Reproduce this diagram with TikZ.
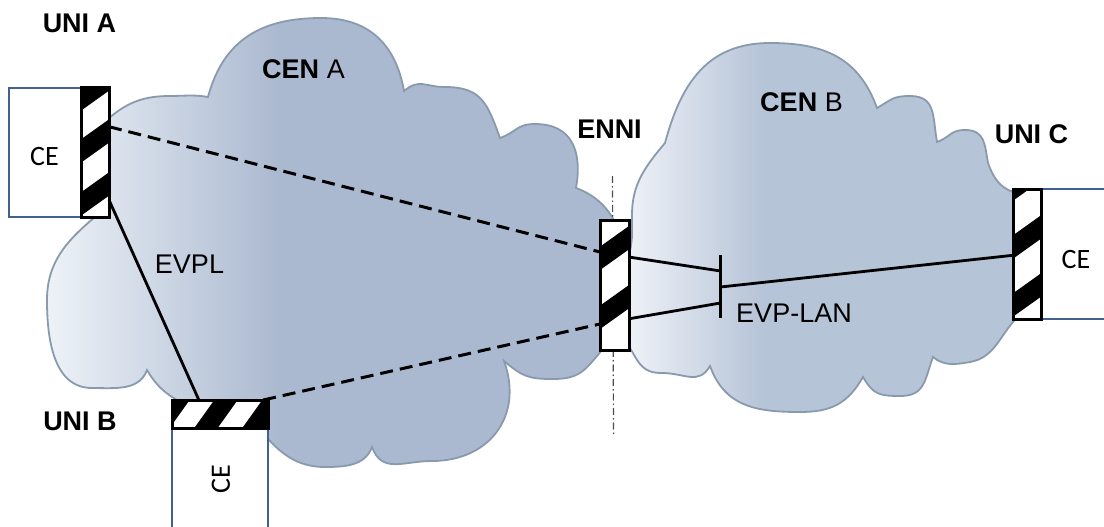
\documentclass[tikz,border=0pt]{standalone}
\usepackage{fontspec}
\setmainfont{Liberation Sans}
\newfontfamily\cefont{Carlito}
\usetikzlibrary{calc}
\definecolor{ceblue}{HTML}{41618F}
\definecolor{cloudline}{HTML}{8A9AAE}
\pgfdeclarehorizontalshading{cloudAshade}{100bp}{rgb(0bp)=(0.93,0.95,0.97); rgb(25bp)=(0.93,0.95,0.97); rgb(45bp)=(0.67,0.725,0.815); rgb(100bp)=(0.67,0.725,0.815)}
\pgfdeclarehorizontalshading{cloudBshade}{100bp}{rgb(0bp)=(0.95,0.96,0.98); rgb(25bp)=(0.95,0.96,0.98); rgb(42bp)=(0.715,0.77,0.845); rgb(100bp)=(0.715,0.77,0.845)}
\newcommand\vstripes[2]{%
  \begin{scope}
    \clip (#1.south west) rectangle (#1.north east);
    \foreach \d in {#2} \draw[stripe] ($(#1.center)+(0,\d)$) ++(-35,-25) -- ++(70,50);
  \end{scope}}
\newcommand\hstripes[2]{%
  \begin{scope}
    \clip (#1.south west) rectangle (#1.north east);
    \foreach \d in {#2} \draw[stripe] ($(#1.center)+(\d,0)$) ++(-25,-35) -- ++(50,70);
  \end{scope}}
\begin{document}
\begin{tikzpicture}[x=1pt,y=1pt,
  lbl/.style={font=\fontsize{27}{32}\selectfont, inner sep=0pt, outer sep=0pt, anchor=base},
  cetext/.style={font=\cefont\fontsize{28}{30}\selectfont, inner sep=0pt},
  cebox/.style={draw=ceblue, line width=2pt, fill=white, inner sep=0pt, outer sep=0pt},
  uni/.style={draw=black, line width=3pt, fill=white, inner sep=0pt, outer sep=0pt},
  stripe/.style={line width=19pt, black},
  dashline/.style={line width=3pt, dash pattern=on 13pt off 7pt},
  solidline/.style={line width=2.8pt},
  ennidash/.style={line width=1.2pt, black!70, dash pattern=on 7pt off 3pt on 1.5pt off 3pt},
  cloudA/.style={draw=cloudline, line width=1.8pt, shading=cloudAshade},
  cloudB/.style={draw=cloudline, line width=1.8pt, shading=cloudBshade}]
\useasboundingbox (0,0) rectangle (1104,-527);
\clip (0,0) rectangle (1104,-527);
\fill[white] (0,0) rectangle (1104,-527);

% clouds
\shadedraw[cloudA] (95,-217)
  to[out=220,in=90] (47,-300)
  to[out=270,in=180] (92,-388)
  to[out=0,in=250] (147,-370)
  to[out=-60,in=160] (200,-410)
  to[out=-20,in=130] (262,-432)
  to[out=-50,in=180] (325,-467)
  to[out=0,in=250] (372,-447)
  to[out=-70,in=180,looseness=1.2] (432,-461)
  to[out=0,in=-70,looseness=1.2] (504,-361)
  to[out=-40,in=180,looseness=1.2] (553,-379)
  to[out=0,in=230,looseness=1.2] (602,-350)
  to[out=50,in=-90] (628,-290)
  to[out=90,in=-20] (576,-188)
  to[out=80,in=0,looseness=1.25] (535,-124)
  to[out=180,in=20,looseness=1.25] (500,-138)
  to[out=110,in=0,looseness=1.25] (445,-87)
  to[out=180,in=40,looseness=1.25] (404,-91)
  to[out=100,in=0,looseness=1.1] (321,-18)
  to[out=180,in=75,looseness=1.1] (208,-97)
  to[out=170,in=0] (170,-96)
  to[out=180,in=40] (109,-118)
  to[out=220,in=90] (85,-170)
  -- (85,-200) -- cycle;
\shadedraw[cloudB] (632,-237)
  to[out=-95,in=90] (624,-290)
  to[out=-90,in=120] (630,-348)
  to[out=-60,in=180,looseness=1.2] (662,-373)
  to[out=0,in=240,looseness=1.2] (710,-366)
  to[out=-70,in=180,looseness=1.1] (800,-412)
  to[out=0,in=240,looseness=1.1] (863,-377)
  to[out=-60,in=180,looseness=1.25] (900,-396)
  to[out=0,in=250,looseness=1.25] (933,-357)
  to[out=-40,in=190] (970,-362)
  to[out=10,in=230] (1013,-322)
  to[out=50,in=-90] (1040,-260)
  to[out=90,in=-40] (1013,-192)
  to[out=160,in=-70] (988,-163)
  to[out=100,in=0,looseness=1.25] (965,-130)
  to[out=180,in=20,looseness=1.25] (937,-142)
  to[out=100,in=0,looseness=1.25] (910,-96)
  to[out=180,in=30,looseness=1.25] (877,-108)
  to[out=110,in=0,looseness=1.1] (770,-43)
  to[out=180,in=75,looseness=1.1] (665,-143)
  to[out=230,in=90] (632,-215)
  -- cycle;

% ENNI reference line
\coordinate (ennT) at (612.5,-176);
\coordinate (ennB) at (613.5,-434);
\draw[ennidash] (ennT) -- (ennB);

% boxes
\node[cebox, minimum width=72pt, minimum height=129pt] (ceA) at (45,-152.5) {};
\node[uni, minimum width=28pt, minimum height=129pt] (barA) at (95,-152.5) {};
\vstripes{barA}{63.5,11.5,-41.5}
\node[cebox, minimum width=96pt, minimum height=112pt] (ceB) at (220,-484) {};
\node[uni, minimum width=96pt, minimum height=28pt] (barB) at (220,-414) {};
\hstripes{barB}{-52,-4,44}
\node[uni, minimum width=29pt, minimum height=130pt] (barE) at (614.5,-285) {};
\vstripes{barE}{37,-22}
\node[cebox, minimum width=79pt, minimum height=130pt] (ceC) at (1080.5,-254) {};
\node[uni, minimum width=28pt, minimum height=130pt] (barC) at (1027,-254) {};
\vstripes{barC}{75,17,-41}

% EVP-LAN bar
\coordinate (lanT) at (720.5,-255);
\coordinate (lanB) at (720.5,-318);
\coordinate (lanU) at (720.5,-271);
\coordinate (lanM) at (720.5,-287);
\coordinate (lanL) at (720.5,-303);

% connectors
\draw[dashline] ($(barA.north east)!0.3!(barA.south east)$) -- ($(barE.north west)!0.246!(barE.south west)$);
\draw[dashline] ($(barB.north west)!0.95!(barB.north east)$) -- ($(barE.north west)!0.8!(barE.south west)$);
\draw[solidline] ($(barA.north east)!0.868!(barA.south east)$) -- ($(barB.north west)!0.28!(barB.north east)$);
\draw[solidline] ($(barE.north east)!0.285!(barE.south east)$) -- (lanU);
\draw[solidline] ($(barE.north east)!0.76!(barE.south east)$) -- (lanL);
\draw[solidline] (lanM) -- ($(barC.north west)!0.51!(barC.south west)$);
\draw[line width=3pt] (lanT) -- (lanB);

% labels
\node[lbl] (uniAl) at (79.5,-33) {\textbf{UNI A}};
\node[lbl] (cenAl) at (303.5,-79) {\textbf{CEN} A};
\node[lbl] (ennilbl) at (609.5,-139) {\textbf{ENNI}};
\node[lbl] (evpl) at (189.5,-273) {EVPL};
\node[lbl] (uniBl) at (80,-430) {\textbf{UNI B}};
\node[lbl] (cenBl) at (801.5,-112) {\textbf{CEN} B};
\node[lbl] (uniCl) at (1031.5,-143) {\textbf{UNI C}};
\node[lbl] (evplan) at (794,-322) {EVP-LAN};
\node[cetext] (ceAt) at (44.5,-157) {CE};
\node[cetext, rotate=90] (ceBt) at (221,-479) {CE};
\node[cetext] (ceCt) at (1076,-260) {CE};
\end{tikzpicture}
\end{document}
